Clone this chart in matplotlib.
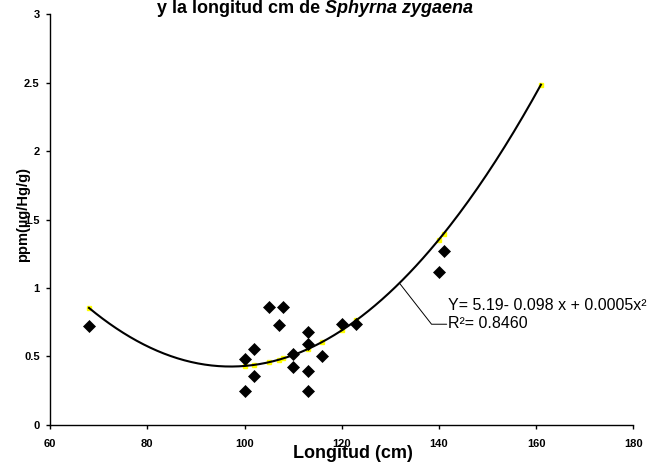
import numpy as np
import matplotlib.pyplot as plt

# observed points (length in cm, Hg in ppm)
length_cm = [68, 100, 100, 102, 102, 105, 107, 108, 110, 110,
             113, 113, 113, 113, 116, 120, 123, 140, 141]
hg_ppm = [0.72, 0.48, 0.25, 0.555, 0.355, 0.86, 0.73, 0.86, 0.52, 0.42,
          0.68, 0.59, 0.39, 0.245, 0.50, 0.735, 0.74, 1.12, 1.27]

# polynomial trendline shown on the chart (a + b x + c x^2)
trend_coef = [5.19, -0.0981, 0.000505]
trend_x_end = 161
equation_label = "Y= 5.19- 0.098 x + 0.0005x\u00b2"
r2_label = "R\u00b2= 0.8460"

x_ticks = [60, 80, 100, 120, 140, 160, 180]
y_ticks = [0, 0.5, 1, 1.5, 2, 2.5, 3]
y_ticklabels = ["0", "0.5", "1", "1.5", "2", "2.5", "3"]

plt.rcParams['font.family'] = ['Liberation Sans', 'DejaVu Sans']


def trend(x):
    a, b, c = trend_coef
    return a + b * np.asarray(x) + c * np.asarray(x) ** 2


fig = plt.figure(figsize=(6.48, 4.63), dpi=100)
ax = fig.add_axes([50.1 / 648, 1 - 424.8 / 463, 583.2 / 648, (424.8 - 14.3) / 463])

ax.plot(length_cm, hg_ppm, linestyle='none', marker='D', ms=6.6,
        mfc='black', mec='black', mew=0.5, zorder=3)

fit_x = sorted(set(length_cm)) + [trend_x_end]
ax.plot(fit_x, trend(fit_x), linestyle='none', marker='s', ms=2.8,
        mfc='#ffff00', mec='#ffff00', zorder=2)

xs = np.linspace(min(length_cm), trend_x_end, 200)
ax.plot(xs, trend(xs), color='black', lw=1.5, zorder=4)

ax.set_xlim(60, 180)
ax.set_ylim(0, 3)
ax.set_xticks(x_ticks)
ax.set_yticks(y_ticks)
ax.set_yticklabels(y_ticklabels)
for side in ['top', 'right']:
    ax.spines[side].set_visible(False)
for side in ['left', 'bottom']:
    ax.spines[side].set_linewidth(1)
ax.tick_params(axis='both', direction='out', length=3, width=1, labelsize=8)
ax.tick_params(axis='x', pad=7)
ax.tick_params(axis='y', pad=4.5)
for lab in ax.get_xticklabels() + ax.get_yticklabels():
    lab.set_fontweight('bold')

# equation with leader line
ax.text(141.8, 0.839, equation_label, fontsize=11.5, va='baseline')
ax.text(141.8, 0.705, r2_label, fontsize=11.5, va='baseline')
ax.annotate('', xy=(132, trend(132) - 0.01), xytext=(141.6, 0.735),
            arrowprops=dict(arrowstyle='-', lw=0.7, color='black',
                            shrinkA=0, shrinkB=0,
                            connectionstyle='angle,angleA=0,angleB=-52,rad=0'))

# axis labels
fig.text(353 / 648, 1 - 458 / 463, 'Longitud (cm)', fontsize=13,
         fontweight='bold', ha='center', va='baseline')
fig.text(23 / 648, 1 - 215 / 463, 'ppm(\u00b5g/Hg/g)', fontsize=10.5,
         fontweight='bold', ha='center', va='center', rotation=90)

# title (first line falls above the canvas)
t1 = fig.text(157 / 648, 1 - 12.9 / 463, 'y la longitud cm de ', fontsize=13,
              fontweight='bold', ha='left', va='baseline')
ax.annotate('Sphyrna zygaena', xy=(1, 0), xycoords=t1, fontsize=13,
            fontweight='bold', fontstyle='italic', ha='left', va='bottom')

fig.savefig('out.png', dpi=100)
